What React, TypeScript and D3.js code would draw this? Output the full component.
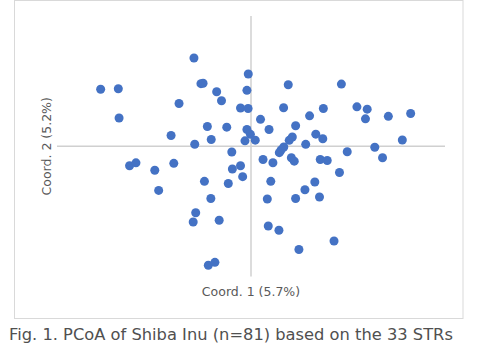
import React from "react";
import * as d3 from "d3";

const coord1: number[] = [
  -0.294, -0.775, -0.684, -0.258, -0.247, -0.177, -0.152, -0.371, -0.014, -0.021,
  -0.054, -0.015, 0.192, 0.466, 0.168, 0.373, 0.546, 0.599, 0.59, 0.708,
  0.823, 0.049, 0.302, 0.23, 0.093, -0.021, -0.003, -0.031, 0.022, 0.334,
  0.37, 0.213, 0.197, 0.282, 0.169, 0.155, 0.146, 0.78, 0.638, 0.496,
  0.678, 0.062, 0.113, 0.208, 0.223, 0.357, 0.393, 0.456, -0.68, -0.225,
  -0.125, -0.412, -0.205, -0.29, -0.099, -0.626, -0.593, -0.496, -0.398, -0.096,
  -0.054, -0.043, -0.24, -0.117, -0.476, -0.207, -0.285, -0.298, -0.164, -0.22,
  -0.186, 0.102, 0.329, 0.278, 0.084, 0.23, 0.353, 0.089, 0.144, 0.247,
  0.428,
];

const coord2: number[] = [
  0.678, 0.438, 0.442, 0.481, 0.484, 0.419, 0.35, 0.329, 0.555, 0.43,
  0.294, 0.29, 0.473, 0.478, 0.296, 0.29, 0.303, 0.285, 0.211, 0.23,
  0.252, 0.207, 0.234, 0.158, 0.129, 0.129, 0.092, 0.042, 0.047, 0.093,
  0.058, 0.071, 0.046, 0.015, -0.005, -0.028, -0.049, 0.048, -0.007, -0.042,
  -0.088, -0.101, -0.126, -0.088, -0.114, -0.101, -0.109, -0.201, 0.217, 0.152,
  0.147, 0.083, 0.052, 0.016, -0.044, -0.149, -0.127, -0.184, -0.131, -0.174,
  -0.149, -0.233, -0.269, -0.286, -0.339, -0.401, -0.51, -0.581, -0.568, -0.914,
  -0.891, -0.269, -0.274, -0.334, -0.405, -0.401, -0.389, -0.612, -0.645, -0.793,
  -0.727,
];

const xTitle = "Coord. 1 (5.7%)";
const yTitle = "Coord. 2 (5.2%)";
const caption = "Fig. 1. PCoA of Shiba Inu (n=81) based on the 33 STRs";

export default function App() {
  const W = 484;
  const H = 354;
  const x = d3.scaleLinear().domain([-1, 1]).range([57, 445]);
  const y = d3.scaleLinear().domain([-1, 1]).range([276.5, 16.1]);
  const pts = coord1.map((c, i) => ({ cx: x(c), cy: y(coord2[i]) }));
  const font = "'DejaVu Sans', Verdana, sans-serif";
  return (
    <svg
      width={W}
      height={H}
      style={{ position: "absolute", left: 0, top: 0, background: "#fff" }}
    >
      <rect x={14.5} y={0.5} width={448.5} height={318} fill="#fff" stroke="#d9d9d9" strokeWidth={1} />
      <line x1={x(-1)} x2={x(1)} y1={y(0)} y2={y(0)} stroke="#d0d0d0" strokeWidth={1.5} />
      <line x1={x(0)} x2={x(0)} y1={y(1)} y2={y(-1)} stroke="#d0d0d0" strokeWidth={1.5} />
      {pts.map((p, i) => (
        <circle key={i} cx={p.cx} cy={p.cy} r={4.5} fill="#4472C4" />
      ))}
      <text x={x(0)} y={295.5} textAnchor="middle" fontFamily={font} fontSize={12.5} fill="#595959">
        {xTitle}
      </text>
      <text
        transform={`translate(51,${y(0)}) rotate(-90)`}
        textAnchor="middle"
        fontFamily={font}
        fontSize={12.5}
        fill="#595959"
      >
        {yTitle}
      </text>
      <text x={9} y={339.5} fontFamily={font} fontSize={16.3} fill="#505050">
        {caption}
      </text>
    </svg>
  );
}
